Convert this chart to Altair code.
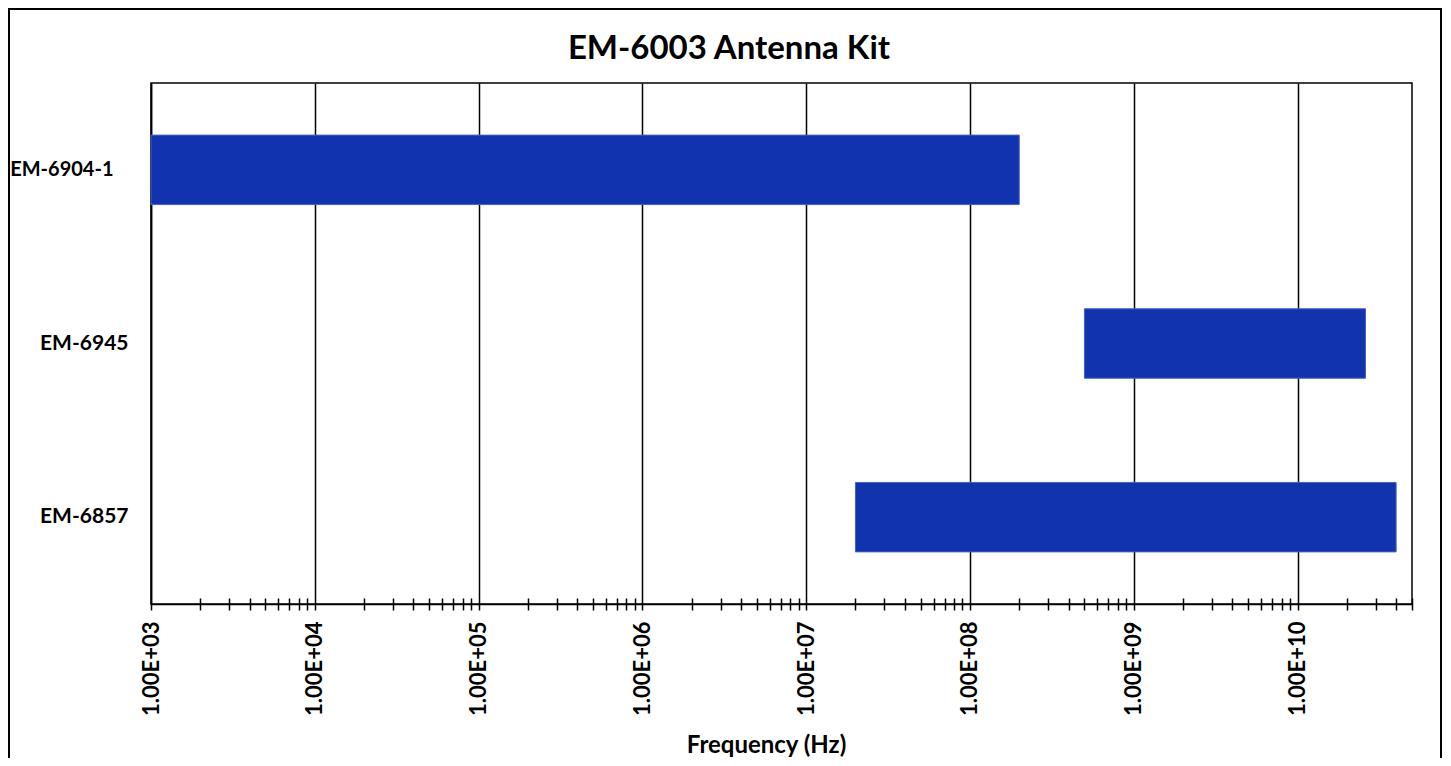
import altair as alt
import pandas as pd

names = ["EM-6904-1", "EM-6945", "EM-6857"]
f_start = [1e3, 5e8, 2e7]
f_end = [2e8, 2.6e10, 4e10]

major_ticks = [1e3, 1e4, 1e5, 1e6, 1e7, 1e8, 1e9, 1e10]
tick_labels = ["1.00E+03", "1.00E+04", "1.00E+05", "1.00E+06",
               "1.00E+07", "1.00E+08", "1.00E+09", "1.00E+10"]
minor_ticks = [k * 10.0 ** e for e in range(3, 11) for k in range(2, 10) if k * 10.0 ** e <= 5e10]
x_domain = [1e3, 5e10]

title_text = "EM-6003 Antenna Kit"
x_title = "Frequency (Hz)"

df = pd.DataFrame({"name": names, "start": f_start, "end": f_end})

FONT = "Lato"
label_expr = "[" + ",".join("'%s'" % t for t in tick_labels) + "][round(log(datum.value)/LN10) - 3]"

xscale = alt.Scale(type="log", domain=x_domain, nice=False)
is_long = "datum.value == 'EM-6904-1'"
yenc = alt.Y("name:N", sort=names,
             scale=alt.Scale(paddingInner=0.6, paddingOuter=0.3),
             axis=alt.Axis(title=None, ticks=False, grid=False,
                           domainColor="black", domainWidth=1.5,
                           labelFont=FONT, labelFontWeight="bold", labelColor="black",
                           labelFontSize={"condition": {"test": is_long, "value": 20}, "value": 21},
                           labelPadding={"condition": {"test": is_long, "value": 38}, "value": 23}))

bars = alt.Chart(df).mark_bar(color="#1233AE", stroke="#4563C2", strokeWidth=1).encode(
    x=alt.X("start:Q", scale=xscale,
            axis=alt.Axis(values=major_ticks, labelExpr=label_expr, orient="bottom",
                          grid=True, gridColor="black", gridWidth=1.5, gridOpacity=1,
                          tickColor="black", tickWidth=1.5, tickSize=6,
                          domainColor="black", domainWidth=1.5,
                          labelAngle=270, labelFont=FONT, labelFontSize=22,
                          labelFontWeight="bold", labelColor="black", labelPadding=11,
                          title=x_title, titleFont=FONT, titleFontSize=24,
                          titleFontWeight="bold", titleColor="black",
                          titleX=615, titleY=148, titleAlign="center",
                          titleBaseline="alphabetic")),
    x2="end:Q",
    y=yenc,
)

minor = alt.Chart(df).mark_point(opacity=0).encode(
    x=alt.X("start:Q", scale=xscale,
            axis=alt.Axis(values=minor_ticks, orient="bottom", offset=-6,
                          tickSize=12, tickColor="black", tickWidth=1.5,
                          labels=False, domain=False, grid=False, title=None)),
    y=alt.Y("name:N", sort=names),
)

title = alt.Chart(alt.Data(values=[{"t": title_text}])).mark_text(
    font=FONT, fontSize=33, fontWeight="bold", color="black",
    align="center", baseline="alphabetic"
).encode(text="t:N", x=alt.value(578), y=alt.value(-24))

border = alt.Chart(alt.Data(values=[{"a": 1}])).mark_rect(
    fill=None, stroke="black", strokeWidth=2, clip=False
).encode(x=alt.value(-142), x2=alt.value(1290), y=alt.value(-74), y2=alt.value(720))

chart = alt.layer(border, bars, minor, title).resolve_axis(x="independent").properties(
    width=1261, height=521,
    background="white",
    autosize=alt.AutoSizeParams(type="none"),
    padding={"left": 143, "top": 75, "right": 31, "bottom": 154},
).configure_view(stroke="black", strokeWidth=1.5)

chart.save("out.html", embed_options={"renderer": "svg", "actions": False})
